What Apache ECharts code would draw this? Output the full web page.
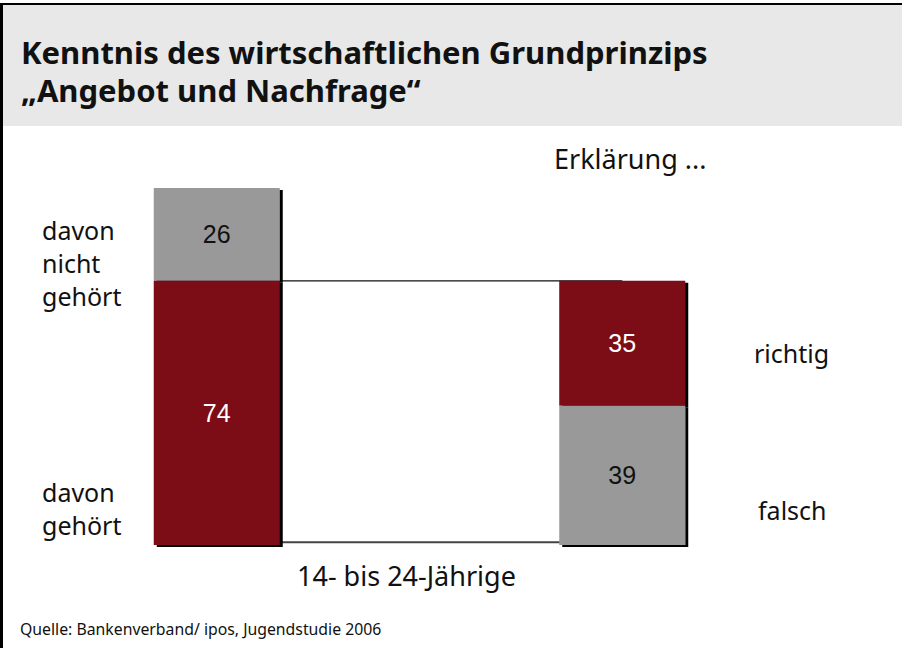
<!DOCTYPE html>
<html>
<head>
    <meta charset="utf-8">
    <script src="https://cdn.jsdelivr.net/npm/echarts@6/dist/echarts.min.js"></script>
    <title>Angebot und Nachfrage</title>
    <style>
        html, body { margin: 0; padding: 0; background: #fff; }
        #main { width: 902px; height: 648px; }
    </style>
</head>
<body>
    <div id="main"></div>
    <script type="text/javascript">
    // Werte aus der Grafik
    var categories = ['14- bis 24-Jährige', 'Erklärung'];
    var lowerValues = [74, 39];      // davon gehört / falsch
    var upperValues = [26, 35];      // davon nicht gehört / richtig
    var lowerColors = ['#7b0819', '#999999'];
    var upperColors = ['#999999', '#7b0819'];
    var topConnector = [74, 74];
    var bottomConnector = [0.8, 0.8];

    var RED = '#7b0819';
    var txtFont = '"Noto Sans", sans-serif';

    var labelColor = function (c) { return c === RED ? '#ffffff' : '#111111'; };
    var makeItems = function (vals, colors) {
        return vals.map(function (v, i) {
            return {
                value: v,
                itemStyle: { color: colors[i] },
                label: { color: labelColor(colors[i]), fontSize: 25 }
            };
        });
    };

    var barShadow = {
        shadowColor: '#000',
        shadowBlur: 0,
        shadowOffsetX: 3,
        shadowOffsetY: 2
    };
    var barLabel = {
        show: true,
        position: 'inside',
        fontFamily: 'Liberation Sans, Arial, sans-serif',
        fontSize: 25
    };

    var myChart = echarts.init(document.getElementById('main'), null, { renderer: 'svg' });

    var option = {
        animation: false,
        backgroundColor: '#ffffff',
        title: {
            text: 'Kenntnis des wirtschaftlichen Grundprinzips\n\u201EAngebot und Nachfrage\u201C',
            left: 16,
            top: 28,
            textStyle: {
                fontFamily: txtFont,
                fontWeight: 'bold',
                fontSize: 31,
                lineHeight: 38,
                color: '#111'
            }
        },
        grid: { left: 14, width: 811, top: 188, height: 357 },
        xAxis: {
            type: 'category',
            data: categories,
            show: false
        },
        yAxis: {
            type: 'value',
            min: 0,
            max: 100,
            show: false
        },
        series: [
            {
                name: 'verbindung oben',
                type: 'line',
                data: topConnector,
                symbol: 'none',
                z: 1,
                lineStyle: { color: '#111', width: 1.2 }
            },
            {
                name: 'verbindung unten',
                type: 'line',
                data: bottomConnector,
                symbol: 'none',
                z: 1,
                lineStyle: { color: '#444', width: 2 }
            },
            {
                name: 'unten',
                type: 'bar',
                stack: 'a',
                barWidth: 126,
                z: 4,
                data: makeItems(lowerValues, lowerColors),
                itemStyle: barShadow,
                label: barLabel
            },
            {
                name: 'oben',
                type: 'bar',
                stack: 'a',
                barWidth: 126,
                z: 3,
                data: makeItems(upperValues, upperColors),
                itemStyle: barShadow,
                label: barLabel
            }
        ],
        graphic: [
            // Rahmen und Titelband
            { type: 'rect', z: -10, shape: { x: 3, y: 4, width: 899, height: 122 }, style: { fill: '#e8e8e8' } },
            { type: 'rect', z: -9, shape: { x: 0, y: 3, width: 902, height: 2 }, style: { fill: '#000' } },
            { type: 'rect', z: -9, shape: { x: 0, y: 3, width: 3, height: 645 }, style: { fill: '#000' } },
            // Beschriftungen
            { type: 'text', left: 42, top: 213, style: { text: 'davon\nnicht\ngehört', font: '25px "Noto Sans", sans-serif', lineHeight: 33, fill: '#111' } },
            { type: 'text', left: 42, top: 475, style: { text: 'davon\ngehört', font: '25px "Noto Sans", sans-serif', lineHeight: 33, fill: '#111' } },
            { type: 'text', left: 554, top: 145, style: { text: 'Erklärung ...', font: '27px "Noto Sans", sans-serif', fill: '#111' } },
            { type: 'text', left: 754, top: 340, style: { text: 'richtig', font: '25px "Noto Sans", sans-serif', fill: '#111' } },
            { type: 'text', left: 758, top: 497, style: { text: 'falsch', font: '25px "Noto Sans", sans-serif', fill: '#111' } },
            { type: 'text', left: 297, top: 562, style: { text: '14- bis 24-Jährige', font: '27px "Noto Sans", sans-serif', fill: '#111' } },
            { type: 'text', left: 20, top: 621, style: { text: 'Quelle: Bankenverband/ ipos, Jugendstudie 2006', font: '15.8px "Noto Sans", sans-serif', fill: '#111' } }
        ]
    };
    myChart.setOption(option);
    </script>
</body>
</html>
